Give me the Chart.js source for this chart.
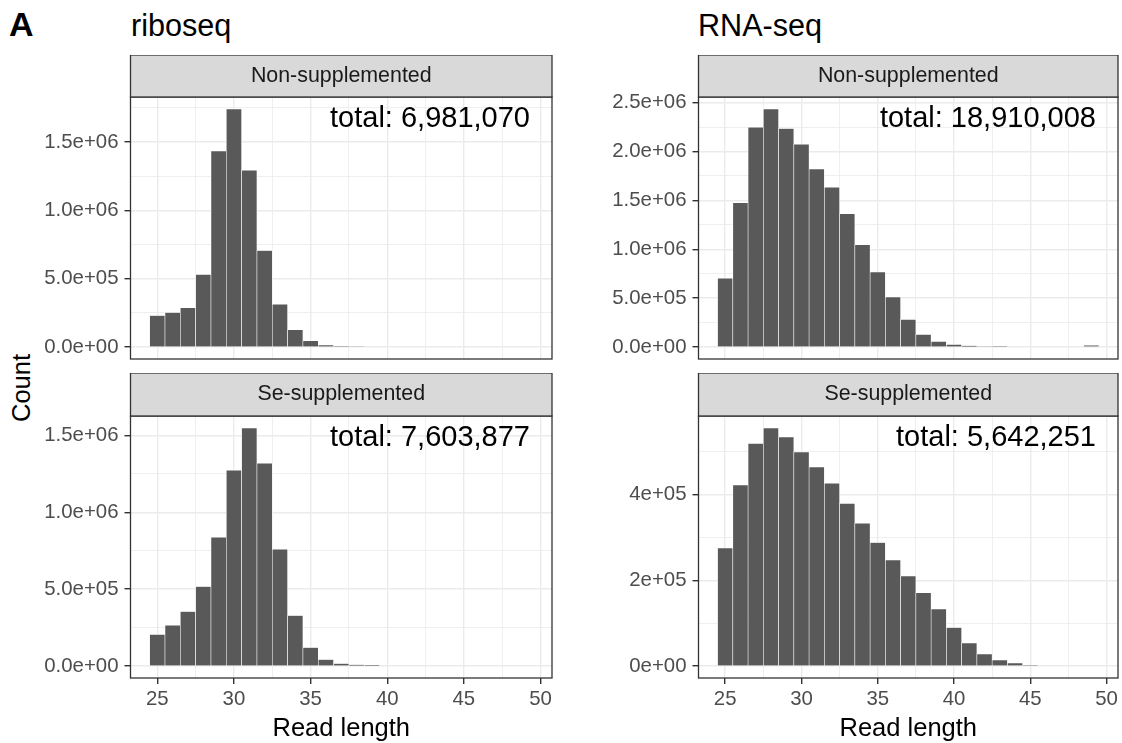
<!DOCTYPE html>
<html>
<head>
<meta charset="utf-8">
<script src="https://cdn.jsdelivr.net/npm/chart.js@4"></script>
<style>
  body { margin: 0; background: #fff; }
  #wrap { position: relative; width: 1122px; height: 743px; overflow: hidden; font-family: "Liberation Sans", Arial, sans-serif; }
  canvas { position: absolute; }
  .lbl { position: absolute; white-space: nowrap; line-height: 1; color: #000; }
</style>
</head>
<body>
<div id="wrap">
  <div class="lbl" style="left:9px;top:7px;font-size:34px;font-weight:bold;">A</div>
  <div class="lbl" style="left:131px;top:10px;font-size:30.6px;">riboseq</div>
  <div class="lbl" style="left:698px;top:10px;font-size:30.6px;">RNA-seq</div>
  <div class="lbl" style="left:22px;top:388px;font-size:25.5px;transform:translate(-50%,-50%) rotate(-90deg);">Count</div>
  <canvas id="p1" width="560" height="306" style="left:0;top:55px"></canvas>
  <canvas id="p2" width="562" height="306" style="left:560px;top:55px"></canvas>
  <canvas id="p3" width="560" height="370" style="left:0;top:373px"></canvas>
  <canvas id="p4" width="562" height="370" style="left:560px;top:373px"></canvas>
</div>
<script>
// read length of first bin in every panel (binwidth 1)
var firstLength = 25;

// counts per read length, starting at 25
var riboNonSupp = [231000, 253000, 287000, 531000, 1434000, 1741000, 1293000, 706000, 314000, 127000, 46000, 15000, 7000, 5000];
var riboSeSupp = [206000, 266000, 355000, 517000, 838000, 1273000, 1548000, 1318000, 760000, 329000, 121000, 43000, 17000, 9000, 6000];
var rnaNonSupp = [703000, 1477000, 2248000, 2435000, 2234000, 2074000, 1821000, 1634000, 1364000, 1047000, 767000, 512000, 283000, 130000, 58000, 27000, 14000, 7000, 5000, null, null, null, null, null, 20000];
var rnaSeSupp = [275000, 422000, 519000, 555000, 534000, 499000, 464000, 426000, 379000, 333000, 288000, 247000, 210000, 171000, 133000, 90000, 54000, 28000, 14000, 7000, 2000];

var totals = ["total: 6,981,070", "total: 18,910,008", "total: 7,603,877", "total: 5,642,251"];
var strips = ["Non-supplemented", "Non-supplemented", "Se-supplemented", "Se-supplemented"];

// x axis
var xMajor = [25, 30, 35, 40, 45, 50];
var xMinor = [27.5, 32.5, 37.5, 42.5, 47.5];
var xMin = 23.25, xMax = 50.75;

// y axis ticks
var yMajorMillions = [0, 500000, 1000000, 1500000, 2000000, 2500000];
var yLabelsMillions = ["0.0e+00", "5.0e+05", "1.0e+06", "1.5e+06", "2.0e+06", "2.5e+06"];
var yMinorMillions = [250000, 750000, 1250000, 1750000, 2250000];
var yMajorSmall = [0, 200000, 400000];
var yLabelsSmall = ["0e+00", "2e+05", "4e+05"];
var yMinorSmall = [100000, 300000, 500000];

Chart.defaults.font.family = '"Liberation Sans", Arial, sans-serif';
Chart.defaults.animation = false;

var panelDecor = {
    id: 'panelDecor',
    afterDatasetsDraw: function(chart, args, opts) {
        var ctx = chart.ctx, a = chart.chartArea;
        ctx.save();
        // annotation
        ctx.fillStyle = '#000';
        ctx.font = '29px "Liberation Sans", Arial, sans-serif';
        ctx.textAlign = 'right';
        ctx.textBaseline = 'middle';
        ctx.fillText(opts.total, a.right - 22, a.top + 22);
        // panel border
        ctx.strokeStyle = '#333333';
        ctx.lineWidth = 1.3;
        ctx.strokeRect(a.left, a.top, a.right - a.left, a.bottom - a.top);
        // strip
        ctx.fillStyle = '#d9d9d9';
        ctx.fillRect(a.left, a.top - opts.stripH, a.right - a.left, opts.stripH);
        ctx.strokeRect(a.left, a.top - opts.stripH, a.right - a.left, opts.stripH);
        ctx.fillStyle = '#1a1a1a';
        ctx.font = '21.4px "Liberation Sans", Arial, sans-serif';
        ctx.textAlign = 'center';
        ctx.fillText(opts.strip, (a.left + a.right) / 2, a.top - opts.stripH / 2);
        ctx.restore();
    }
};

function inList(list, v) {
    for (var i = 0; i < list.length; i++) {
        if (Math.abs(list[i] - v) < 1e-6) return true;
    }
    return false;
}

function noOverflow(s) {
    s.paddingTop = 0;
    s.paddingBottom = 0;
    s.paddingLeft = 0;
    s.paddingRight = 0;
}

function makePanel(canvasId, counts, p) {
    var points = [];
    for (var i = 0; i < counts.length; i++) {
        if (counts[i] !== null) points.push({x: firstLength + i, y: counts[i]});
    }
    var top = Math.max.apply(null, counts);
    var yTicks = p.yMajor.concat(p.yMinor).filter(function(v) { return v <= top * 1.05; });
    var xTicks = xMajor.concat(xMinor);

    var ctx = document.getElementById(canvasId).getContext('2d');
    return new Chart(ctx, {
        type: 'bar',
        data: {
            datasets: [{
                data: points,
                backgroundColor: '#595959',
                borderColor: '#ffffff',
                borderWidth: 0.6,
                barPercentage: 1,
                categoryPercentage: 1
            }]
        },
        plugins: [panelDecor],
        options: {
            responsive: false,
            events: [],
            layout: {
                padding: {left: 0, right: p.padRight, top: p.stripH, bottom: 0}
            },
            plugins: {
                legend: {display: false},
                tooltip: {enabled: false},
                panelDecor: {total: p.total, strip: p.strip, stripH: p.stripH}
            },
            scales: {
                x: {
                    type: 'linear',
                    min: xMin,
                    max: xMax,
                    offset: false,
                    border: {display: false},
                    grid: {
                        offset: false,
                        drawTicks: p.showX,
                        tickLength: 6,
                        color: '#ebebeb',
                        tickColor: function(c) { return inList(xMajor, c.tick.value) ? '#333333' : 'rgba(0,0,0,0)'; },
                        lineWidth: function(c) { return inList(xMajor, c.tick.value) ? 1.4 : 0.8; }
                    },
                    afterBuildTicks: function(s) {
                        s.ticks = xTicks.map(function(v) { return {value: v}; });
                    },
                    afterFit: function(s) { s.height = p.xHeight; noOverflow(s); },
                    ticks: {
                        display: p.showX,
                        autoSkip: false,
                        maxRotation: 0,
                        padding: 3,
                        color: '#4d4d4d',
                        font: {size: 20.4},
                        callback: function(v) { return inList(xMajor, v) ? String(v) : ''; }
                    },
                    title: {
                        display: p.showX,
                        text: 'Read length',
                        color: '#000',
                        font: {size: 25.5},
                        padding: {top: 0, bottom: -1}
                    }
                },
                y: {
                    type: 'linear',
                    min: -top * 0.05,
                    max: top * 1.05,
                    border: {display: false},
                    grid: {
                        tickLength: 6,
                        color: '#ebebeb',
                        tickColor: function(c) { return inList(p.yMajor, c.tick.value) ? '#333333' : 'rgba(0,0,0,0)'; },
                        lineWidth: function(c) { return inList(p.yMajor, c.tick.value) ? 1.4 : 0.8; }
                    },
                    afterBuildTicks: function(s) {
                        s.ticks = yTicks.map(function(v) { return {value: v}; });
                    },
                    afterFit: function(s) { s.width = p.yWidth; noOverflow(s); },
                    ticks: {
                        autoSkip: false,
                        padding: 6,
                        color: '#4d4d4d',
                        font: {size: 20.4},
                        callback: function(v) {
                            var k = -1;
                            for (var i = 0; i < p.yMajor.length; i++) {
                                if (Math.abs(p.yMajor[i] - v) < 1e-6) k = i;
                            }
                            return k >= 0 ? p.yLabels[k] : '';
                        }
                    }
                }
            }
        }
    });
}

makePanel('p1', riboNonSupp, {total: totals[0], strip: strips[0], stripH: 42, padRight: 8, yWidth: 130.5, xHeight: 2, showX: false,
    yMajor: yMajorMillions, yLabels: yLabelsMillions, yMinor: yMinorMillions});
makePanel('p2', rnaNonSupp, {total: totals[1], strip: strips[1], stripH: 42, padRight: 4, yWidth: 138.5, xHeight: 2, showX: false,
    yMajor: yMajorMillions, yLabels: yLabelsMillions, yMinor: yMinorMillions});
makePanel('p3', riboSeSupp, {total: totals[2], strip: strips[2], stripH: 43, padRight: 8, yWidth: 130.5, xHeight: 65, showX: true,
    yMajor: yMajorMillions, yLabels: yLabelsMillions, yMinor: yMinorMillions});
makePanel('p4', rnaSeSupp, {total: totals[3], strip: strips[3], stripH: 43, padRight: 4, yWidth: 138.5, xHeight: 65, showX: true,
    yMajor: yMajorSmall, yLabels: yLabelsSmall, yMinor: yMinorSmall});
</script>
</body>
</html>
